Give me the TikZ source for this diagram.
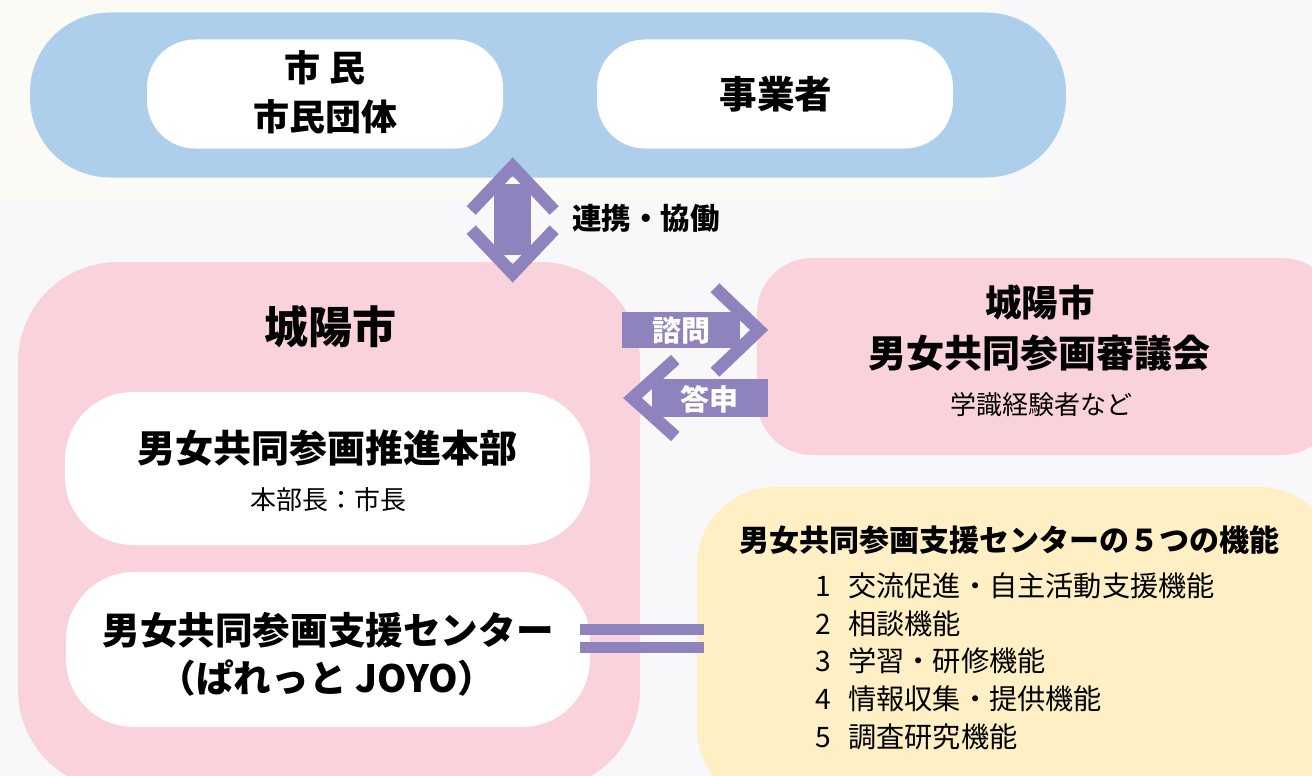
\documentclass[tikz,border=0pt]{standalone}
\usepackage{fontspec}
\setmainfont{Noto Sans CJK JP}
\definecolor{bgc}{HTML}{F8F8FA}
\definecolor{creamc}{HTML}{FBFAF5}
\definecolor{bluec}{HTML}{AECFEC}
\definecolor{pinkc}{HTML}{F9D2DC}
\definecolor{purc}{HTML}{8E83BC}
\definecolor{yelc}{HTML}{FEF0C4}
\begin{document}
\begin{tikzpicture}[x=1pt,y=-1pt,
  boxshape/.style={rectangle,draw=none,inner sep=0pt},
  txt/.style={inner sep=0pt,anchor=center},
  bigb/.style={txt,font=\fontsize{37.6}{40}\selectfont\bfseries},
  smallr/.style={txt,font=\fontsize{26}{30}\selectfont},
  itemr/.style={inner sep=0pt,anchor=west,font=\fontsize{28.2}{30}\selectfont},
  chev/.style={draw=purc,line width=12.5pt,line join=miter,line cap=butt},
  shaft/.style={fill=purc,draw=none}]
\useasboundingbox (0,0) rectangle (1312,776);
\clip (0,0) rectangle (1312,776);
\fill[bgc] (0,0) rectangle (1312,776);
\fill[creamc] (0,0) rectangle (1000,200);
% top blue band
\node[boxshape,fill=bluec,minimum width=1036pt,minimum height=165pt,rounded corners=80pt] (civ) at (548,95) {};
\node[boxshape,fill=white,minimum width=356pt,minimum height=109pt,rounded corners=48pt] (cit) at (325,94) {};
\node[boxshape,fill=white,minimum width=356pt,minimum height=109pt,rounded corners=48pt] (biz) at (775,94) {};
\node[bigb,font=\fontsize{36}{40}\selectfont\bfseries] (citA) at (325,68) {市 民};
\node[bigb,font=\fontsize{36}{40}\selectfont\bfseries] (citB) at (325,117) {市民団体};
\node[bigb] (bizT) at (776,94) {事業者};
% city box
\node[boxshape,fill=pinkc,minimum width=622pt,minimum height=528pt,rounded corners=100pt] (city) at (329,526) {};
\node[txt,font=\fontsize{44}{48}\selectfont\bfseries] (cityT) at (330,327) {城陽市};
\node[boxshape,fill=white,minimum width=525pt,minimum height=153pt,rounded corners=68pt] (hq) at (327.5,468.5) {};
\node[bigb,font=\fontsize{38}{40}\selectfont\bfseries] (hqA) at (327,448) {男女共同参画推進本部};
\node[smallr] (hqB) at (328,500) {本部長：市長};
\node[boxshape,fill=white,minimum width=524pt,minimum height=155pt,rounded corners=68pt] (ctr) at (328,649.5) {};
\node[bigb] (ctrA) at (328,630) {男女共同参画支援センター};
\node[bigb] (ctrB) at (327,678) {（ぱれっと JOYO）};
% council
\node[boxshape,fill=pinkc,minimum width=580pt,minimum height=197pt,rounded corners=55pt] (cou) at (1047,356.5) {};
\node[bigb,font=\fontsize{36.5}{40}\selectfont\bfseries] (couA) at (1040,303) {城陽市};
\node[bigb,font=\fontsize{38}{40}\selectfont\bfseries] (couB) at (1039,353) {男女共同参画審議会};
\node[smallr] (couC) at (1041,405) {学識経験者など};
% functions box
\node[boxshape,fill=yelc,minimum width=640pt,minimum height=320pt,rounded corners=78pt] (fun) at (1017,647) {};
\node[txt,font=\fontsize{30}{32}\selectfont\bfseries] (funT) at (1009,540) {男女共同参画支援センターの５つの機能};
\node[itemr] (f1) at (815,586) {\makebox[33pt][l]{1}交流促進・自主活動支援機能};
\node[itemr] (f2) at (815,624) {\makebox[33pt][l]{2}相談機能};
\node[itemr] (f3) at (815,661) {\makebox[33pt][l]{3}学習・研修機能};
\node[itemr] (f4) at (815,699) {\makebox[33pt][l]{4}情報収集・提供機能};
\node[itemr] (f5) at (815,737) {\makebox[33pt][l]{5}調査研究機能};
% vertical double arrow (civ <-> city)
\coordinate (vtop) at (512.7,166.5);
\coordinate (vbot) at (512.7,273.5);
\fill[purc] (494.3,184) rectangle (531.1,255);
\draw[chev] (471.2,210.5) -- (vtop) -- (554.2,210.5);
\draw[chev] (471.2,229.7) -- (vbot) -- (554.2,229.7);
\node[txt,font=\fontsize{29.5}{30}\selectfont\bfseries] (coop) at (646,218) {連携・協働};
% consult arrow (city -> council)
\coordinate (rtip) at (759.1,330);
\fill[purc] (622.3,311.7) rectangle (740,348.3);
\draw[chev] (715,287.8) -- (rtip) -- (715,372.2);
\node[txt,text=white,font=\fontsize{29}{30}\selectfont\bfseries] (consult) at (681,330) {諮問};
% answer arrow (council -> city)
\coordinate (ltip) at (632.5,398);
\fill[purc] (652,379.2) rectangle (767.7,416.8);
\draw[chev] (675.3,359.5) -- (ltip) -- (675.3,436.5);
\node[txt,text=white,font=\fontsize{29}{30}\selectfont\bfseries] (answer) at (709,399) {答申};
% equals sign (ctr = fun)
\fill[purc] (580,624) rectangle (704,635);
\fill[purc] (580,642) rectangle (704,653);
\end{tikzpicture}
\end{document}
